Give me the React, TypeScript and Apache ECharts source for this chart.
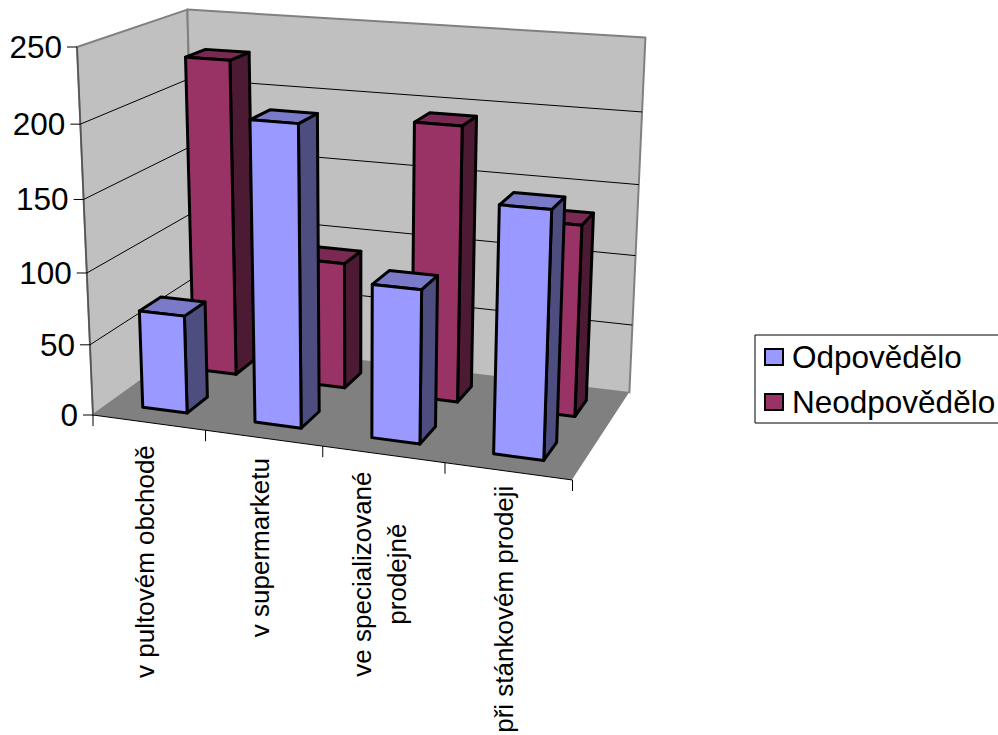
import React, { useEffect, useRef } from "react";
import * as echarts from "echarts";

const categories = ["v pultovém obchodě", "v supermarketu", "ve specializované\nprodejně", "při stánkovém prodeji"];
const answered = [69, 206, 105, 165];
const notAnswered = [227, 91, 194, 134];
const valueTicks = [0, 50, 100, 150, 200, 250];
const seriesNames = ["Odpovědělo", "Neodpovědělo"];

const WIDTH = 998;
const HEIGHT = 735;
const FONT = '"Liberation Sans", Arial, sans-serif';

// Perspective camera of the plot box: screen positions of the three edges
// leaving the near-left floor corner, and the homogeneous weight of each.
type P = [number, number];
const O: P = [93, 415];
const X: P = [572.5, 480];
const Y: P = [77, 47];
const Z: P = [196, 341];
const WEIGHT_X = 0.92;
const WEIGHT_Y = 0.9425;
const WEIGHT_Z = 1.117;

const hom = (p: P, w: number) => [p[0] * w - O[0], p[1] * w - O[1], w - 1];
const cx = hom(X, WEIGHT_X);
const cy = hom(Y, WEIGHT_Y);
const cz = hom(Z, WEIGHT_Z);

function project(u: number, v: number, z: number): P {
  const h = u * cx[0] + v * cy[0] + z * cz[0] + O[0];
  const k = u * cx[1] + v * cy[1] + z * cz[1] + O[1];
  const w = u * cx[2] + v * cy[2] + z * cz[2] + 1;
  return [h / w, k / w];
}

// Reads the axis scales and turns a data point into unit box coordinates.
function unit(api: any, params: any, cat: number, value: number) {
  const cs = params.coordSys;
  const pt = api.coord([cat, value]);
  const band = api.size([1, 0])[0];
  return {
    center: (pt[0] - cs.x) / cs.width,
    band: band / cs.width,
    height: (cs.y + cs.height - pt[1]) / cs.height,
  };
}

// Column footprint: 40% of a category band wide, 20% of a series slot deep.
const BAR_WIDTH = 0.4;
const SLOTS: [number, number][] = [
  [0.15, 0.35],
  [0.65, 0.85],
];
const FACE_COLORS = [
  { front: "#9999FF", top: "#7A7AC8", side: "#4D4D80" },
  { front: "#993366", top: "#7A2952", side: "#4D1A33" },
];

function barRenderer(slot: number) {
  const [z0, z1] = SLOTS[slot];
  const c = FACE_COLORS[slot];
  return (params: any, api: any) => {
    const { center, band, height } = unit(api, params, api.value(0), api.value(1));
    const half = (band * BAR_WIDTH) / 2;
    const u0 = center - half;
    const u1 = center + half;
    const edge = { stroke: "#000", lineWidth: 3, lineJoin: "round" };
    const face = (points: P[], fill: string) => ({
      type: "polygon",
      shape: { points },
      style: { fill, ...edge },
    });
    return {
      type: "group",
      children: [
        face([project(u1, 0, z0), project(u1, 0, z1), project(u1, height, z1), project(u1, height, z0)], c.side),
        face([project(u0, height, z0), project(u1, height, z0), project(u1, height, z1), project(u0, height, z1)], c.top),
        face([project(u0, 0, z0), project(u1, 0, z0), project(u1, height, z0), project(u0, height, z0)], c.front),
      ],
    };
  };
}

function renderWalls() {
  const a = project(0, 0, 0);
  const b = project(1, 0, 0);
  const c = project(1, 0, 1);
  const d = project(0, 0, 1);
  const e = project(0, 1, 0);
  const f = project(0, 1, 1);
  const g = project(1, 1, 1);
  const grey = { stroke: "#808080", lineWidth: 2, lineJoin: "round" };
  return {
    type: "group",
    children: [
      { type: "polygon", shape: { points: [a, e, f, d] }, style: { fill: "#C0C0C0", ...grey } },
      { type: "polygon", shape: { points: [d, f, g, c] }, style: { fill: "#C0C0C0", ...grey } },
      { type: "polygon", shape: { points: [a, b, c, d] }, style: { fill: "#808080", stroke: "none" } },
      { type: "line", shape: { x1: b[0], y1: b[1], x2: c[0], y2: c[1] }, style: { stroke: "#fff", lineWidth: 1.2 } },
      { type: "line", shape: { x1: a[0], y1: a[1], x2: b[0], y2: b[1] }, style: { stroke: "#000", lineWidth: 1 } },
      { type: "line", shape: { x1: a[0], y1: a[1], x2: e[0], y2: e[1] }, style: { stroke: "#555", lineWidth: 1.6 } },
    ],
  };
}

function renderValueTick(params: any, api: any) {
  const { height } = unit(api, params, 0, api.value(1));
  const a = project(0, height, 0);
  const b = project(0, height, 1);
  const c = project(1, height, 1);
  const children: any[] = [
    { type: "line", shape: { x1: a[0] - 10, y1: a[1], x2: a[0], y2: a[1] }, style: { stroke: "#000", lineWidth: 1 } },
    {
      type: "text",
      style: {
        x: a[0] - 15,
        y: a[1],
        text: String(api.value(1)),
        align: "right",
        verticalAlign: "middle",
        font: `31.5px ${FONT}`,
        fill: "#000",
      },
    },
  ];
  if (height > 0 && height < 1) {
    children.push({
      type: "polyline",
      shape: { points: [a, b, c] },
      style: { stroke: "#000", lineWidth: 1, fill: "none" },
    });
  }
  return { type: "group", children };
}

const measureCtx = document.createElement("canvas").getContext("2d")!;

function renderCategory(params: any, api: any) {
  const i = api.value(0);
  const { center, band } = unit(api, params, i, 0);
  const tick = (u: number) => {
    const p = project(u, 0, 0);
    return { type: "line", shape: { x1: p[0], y1: p[1], x2: p[0], y2: p[1] + 11 }, style: { stroke: "#000", lineWidth: 1 } };
  };
  const children: any[] = [tick(center + band / 2)];
  if (i === 0) children.push(tick(center - band / 2));
  const foot = project(center, 0, 0);
  const lines = categories[i].split("\n");
  const fontSize = 26;
  measureCtx.font = `${fontSize}px ${FONT}`;
  const longest = Math.max(...lines.map((l) => measureCtx.measureText(l).width));
  const topY = foot[1] + 24 - 11 * center;
  const lineGap = 35;
  lines.forEach((l, k) => {
    children.push({
      type: "text",
      x: foot[0] - 4 + (k - (lines.length - 1) / 2) * lineGap,
      y: topY + longest / 2,
      rotation: Math.PI / 2,
      style: {
        x: 0,
        y: 0,
        text: l,
        align: "center",
        verticalAlign: "middle",
        font: `${fontSize}px ${FONT}`,
        fill: "#000",
      },
    });
  });
  return { type: "group", children };
}

export default function App() {
  const ref = useRef<HTMLDivElement>(null);
  useEffect(() => {
    document.body.style.margin = "0";
    const chart = echarts.init(ref.current!, undefined, { renderer: "svg" });
    chart.setOption({
      animation: false,
      backgroundColor: "#fff",
      grid: { left: 0, top: 0, width: WIDTH, height: HEIGHT },
      xAxis: { type: "category", data: categories, show: false },
      yAxis: { type: "value", min: 0, max: 250, interval: 50, show: false },
      legend: {
        left: 755,
        top: 335,
        orient: "vertical",
        data: seriesNames,
        icon: "rect",
        itemWidth: 18,
        itemHeight: 16,
        itemGap: 13,
        padding: [6, 12, 5, 9],
        borderColor: "#000",
        borderWidth: 1,
        backgroundColor: "#fff",
        selectedMode: false,
        itemStyle: { borderColor: "#000", borderWidth: 2 },
        textStyle: { fontFamily: FONT, fontSize: 31.5, color: "#000", padding: [0, 0, 0, 4] },
      },
      series: [
        { type: "custom", name: "walls", silent: true, data: [[0, 0]], renderItem: renderWalls, z: 1 },
        {
          type: "custom",
          name: "valueTicks",
          silent: true,
          data: valueTicks.map((v) => [0, v]),
          renderItem: renderValueTick,
          z: 2,
        },
        {
          type: "custom",
          name: "categoryLabels",
          silent: true,
          data: categories.map((_, i) => [i, 0]),
          renderItem: renderCategory,
          z: 2,
        },
        {
          type: "custom",
          name: seriesNames[1],
          silent: true,
          itemStyle: { color: FACE_COLORS[1].front },
          data: notAnswered.map((v, i) => [i, v]),
          renderItem: barRenderer(1),
          z: 3,
        },
        {
          type: "custom",
          name: seriesNames[0],
          silent: true,
          itemStyle: { color: FACE_COLORS[0].front },
          data: answered.map((v, i) => [i, v]),
          renderItem: barRenderer(0),
          z: 4,
        },
      ],
    });
    return () => chart.dispose();
  }, []);
  return <div ref={ref} style={{ width: WIDTH, height: HEIGHT }} />;
}
